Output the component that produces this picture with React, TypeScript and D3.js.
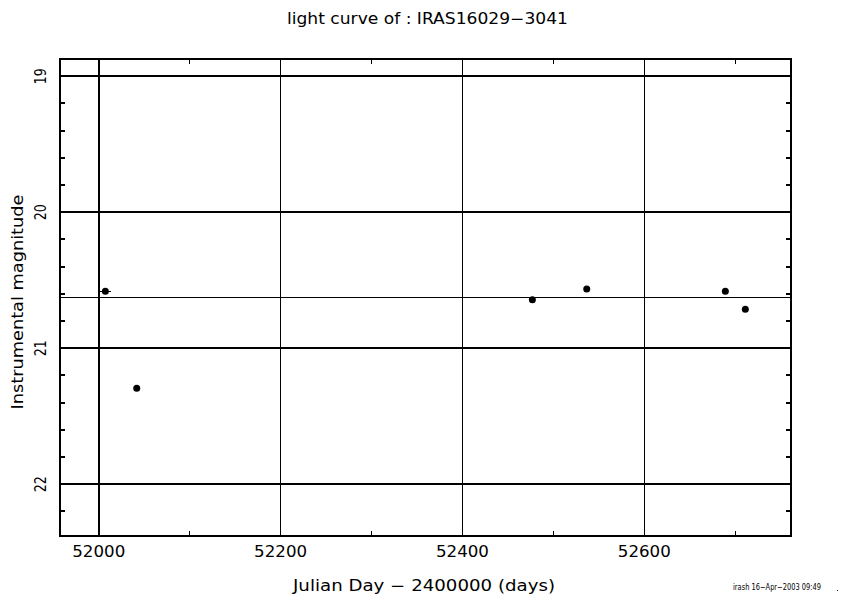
import React from "react";
import * as d3 from "d3";

// observations (Julian Day - 2400000, instrumental magnitude)
const jd = [52007.3, 52041.8, 52476.9, 52536.7, 52689.1, 52711.1];
const mag = [20.581, 21.294, 20.643, 20.564, 20.581, 20.713];
const jdErr = [6, 0, 0, 0, 0, 0];
const meanMag = 20.623;

const xTicks = [52000, 52200, 52400, 52600];
const xMinor = [52100, 52300, 52500, 52700];
const yTicks = [19, 20, 21, 22];
const yMinor = [19.2, 19.4, 19.6, 19.8, 20.2, 20.4, 20.6, 20.8, 21.2, 21.4, 21.6, 21.8, 22.2];

const W = 851;
const H = 596;
const FONT = "DejaVu Sans, Liberation Sans, sans-serif";

export default function App() {
  const x = d3.scaleLinear().domain([51957.4, 52761]).range([60, 790.7]);
  const y = d3.scaleLinear().domain([18.873, 22.378]).range([59, 535.7]);
  const [x0, x1] = x.range();
  const [y0, y1] = y.range();

  return (
    <svg width={W} height={H} style={{ position: "absolute", left: 0, top: 0, background: "#fff" }}>
      <text x={427.5} y={24} textAnchor="middle" fontFamily={FONT} fontSize={15}
        textLength={281} lengthAdjust="spacingAndGlyphs">light curve of : IRAS16029−3041</text>

      <g shapeRendering="crispEdges">
        {/* horizontal grid at integer magnitudes */}
        {yTicks.map((t) => (
          <line key={"hy" + t} x1={x0} x2={x1} y1={y(t)} y2={y(t)} stroke="#000" strokeWidth={2} />
        ))}
        {/* vertical grid */}
        {xTicks.map((t, i) => (
          <line key={"vx" + t} x1={x(t)} x2={x(t)} y1={y0} y2={y1} stroke="#000" strokeWidth={i === 0 ? 2 : 1} />
        ))}
        {/* mean line */}
        <line x1={x0} x2={x1} y1={y(meanMag)} y2={y(meanMag)} stroke="#000" strokeWidth={1} />

        {/* minor ticks */}
        {yMinor.map((t) => (
          <g key={"my" + t}>
            <line x1={x0} x2={x0 + 5} y1={y(t)} y2={y(t)} stroke="#000" strokeWidth={2} />
            <line x1={x1 - 5} x2={x1} y1={y(t)} y2={y(t)} stroke="#000" strokeWidth={2} />
          </g>
        ))}
        {xMinor.map((t) => (
          <g key={"mx" + t}>
            <line x1={x(t)} x2={x(t)} y1={y1} y2={y1 - 5} stroke="#000" strokeWidth={1} />
            <line x1={x(t)} x2={x(t)} y1={y0} y2={y0 + 5} stroke="#000" strokeWidth={1} />
          </g>
        ))}

        {/* frame */}
        <rect x={x0} y={y0} width={x1 - x0} height={y1 - y0} fill="none" stroke="#000" strokeWidth={2} />

        {jd.map((d, i) =>
          jdErr[i] > 0 ? (
            <line key={"e" + i} x1={x(d - jdErr[i])} x2={x(d + jdErr[i])} y1={y(mag[i])} y2={y(mag[i])} stroke="#000" strokeWidth={1} />
          ) : null
        )}
      </g>

      {/* data */}
      {jd.map((d, i) => (
        <circle key={"p" + i} cx={x(d)} cy={y(mag[i])} r={3.5} fill="#000" />
      ))}

      {/* x tick labels */}
      {xTicks.map((t) => (
        <text key={"xl" + t} x={x(t)} y={557} textAnchor="middle" fontFamily={FONT} fontSize={15}
          textLength={53} lengthAdjust="spacingAndGlyphs">{t}</text>
      ))}
      {/* y tick labels */}
      {yTicks.map((t) => (
        <text key={"yl" + t} transform={`translate(46,${y(t)}) rotate(-90)`} textAnchor="middle"
          fontFamily={FONT} fontSize={15} textLength={16} lengthAdjust="spacingAndGlyphs">{t}</text>
      ))}

      <text x={424} y={591} textAnchor="middle" fontFamily={FONT} fontSize={15}
        textLength={262} lengthAdjust="spacingAndGlyphs">Julian Day − 2400000 (days)</text>
      <text transform="translate(23,302) rotate(-90)" textAnchor="middle" fontFamily={FONT} fontSize={15}
        textLength={215} lengthAdjust="spacingAndGlyphs">Instrumental magnitude</text>

      <text x={733} y={590} fontFamily={FONT} fontSize={9} textLength={88} lengthAdjust="spacingAndGlyphs">
        irash 16−Apr−2003 09:49
      </text>
      <circle cx={837.5} cy={590.5} r={0.6} fill="#000" />
    </svg>
  );
}
